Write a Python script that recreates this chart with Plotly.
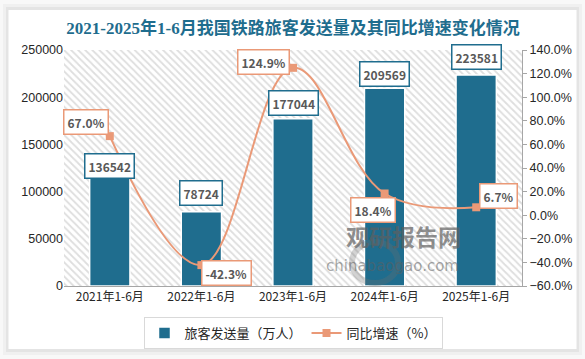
import plotly.graph_objects as go

categories = ["2021年1-6月", "2022年1-6月", "2023年1-6月", "2024年1-6月", "2025年1-6月"]
passengers = [136542, 78724, 177044, 209569, 223581]
growth = [67.0, -42.3, 124.9, 18.4, 6.7]
bar_label_shift = [-9, 19, 16, 14, 18]
pct_label_shift = [(-24, 14), (25, -8), (-30, 6), (-12, -17), (22, 11)]

W, H = 585, 359
ML, MR, MT, MB = 64, 63, 50, 73
PW, PH = W - ML - MR, H - MT - MB

def px_x(p):
    return (p - ML) / PW

def px_y(p):
    return (H - MB - p) / PH

BAR = "#1F6D8E"
LINE = "#EA9977"
TXT = "#595959"
CJK = "Noto Sans CJK SC, Microsoft YaHei, sans-serif"
TICK = "Liberation Sans, Noto Sans CJK SC, sans-serif"

fig = go.Figure()

# hatched plot-area background (base subplot)
fig.add_trace(go.Scatter(
    x=[0, 1, 1, 0, 0], y=[0, 0, 1, 1, 0], xaxis="x", yaxis="y",
    mode="lines", line=dict(width=0), fill="toself",
    fillcolor="white",
    fillpattern=dict(shape="\\", fgcolor="#BDBDBD", bgcolor="white", size=5, solidity=0.35),
    showlegend=False, hoverinfo="skip"))

fig.add_trace(go.Bar(
    x=categories, y=passengers, name="旅客发送量（万人）",
    xaxis="x2", yaxis="y2",
    marker=dict(color=BAR, line=dict(color="white", width=1.5)),
    width=0.44))

fig.add_trace(go.Scatter(
    x=categories, y=growth, name="同比增速（%）",
    xaxis="x2", yaxis="y3", mode="lines+markers",
    line=dict(color=LINE, width=2, shape="spline", smoothing=1.1),
    marker=dict(symbol="square", size=8, color=LINE)))

annotations = []
# watermark (drawn first so labels sit on top)
annotations.append(dict(x=px_x(463), y=px_y(255), xref="paper", yref="paper",
                        text="<b>观研报告网</b>", showarrow=False,
                        font=dict(size=23, color="rgba(95,95,95,0.7)", family=CJK)))
annotations.append(dict(x=px_x(461), y=px_y(277), xref="paper", yref="paper",
                        text="chinabaogao.com", showarrow=False,
                        font=dict(size=15, color="rgba(95,95,95,0.55)", family="DejaVu Sans")))

for c, v, s in zip(categories, passengers, bar_label_shift):
    annotations.append(dict(
        x=c, y=v, xref="x2", yref="y2", text=f"<b>{v}</b>", showarrow=False,
        yshift=s, bgcolor="white", bordercolor=BAR, borderwidth=1.5, borderpad=3,
        font=dict(size=12, color=TXT, family=CJK)))
for c, v, (dx, dy) in zip(categories, growth, pct_label_shift):
    annotations.append(dict(
        x=c, y=v, xref="x2", yref="y3", text=f"<b>{v:.1f}%</b>", showarrow=False,
        xshift=dx, yshift=dy, bgcolor="white", bordercolor=LINE, borderwidth=1.5, borderpad=3,
        font=dict(size=12, color=TXT, family=CJK)))

shapes = [
    dict(type="rect", xref="paper", yref="paper", layer="below",
         x0=px_x(3), x1=px_x(582), y0=px_y(4), y1=px_y(355),
         fillcolor="#F0F0F0", line=dict(width=0)),
    dict(type="rect", xref="paper", yref="paper", layer="below",
         x0=px_x(6), x1=px_x(579), y0=px_y(7), y1=px_y(352),
         fillcolor="#E4E4E4", line=dict(width=0)),
    dict(type="rect", xref="paper", yref="paper", layer="below",
         x0=px_x(8.5), x1=px_x(576.5), y0=px_y(10), y1=px_y(349),
         fillcolor="white", line=dict(width=0)),
    # watermark logo ring
    dict(type="circle", xref="paper", yref="paper", layer="above",
         x0=px_x(352), x1=px_x(398), y0=px_y(242), y1=px_y(283),
         line=dict(color="rgba(110,110,110,0.3)", width=6), fillcolor="rgba(0,0,0,0)"),
]

fig.update_layout(
    width=W, height=H,
    margin=dict(l=ML, r=MR, t=MT, b=MB, autoexpand=False),
    paper_bgcolor="#F8F8F8", plot_bgcolor="rgba(0,0,0,0)",
    title=dict(text="<b>2021-2025年1-6月我国铁路旅客发送量及其同比增速变化情况</b>",
               x=0.5, xref="paper", xanchor="center", y=1 - 22 / H, yref="container",
               yanchor="top",
               font=dict(size=17, color=BAR, family="Liberation Serif, Noto Sans CJK SC, serif")),
    xaxis=dict(range=[0, 1], visible=False, fixedrange=True),
    yaxis=dict(range=[0, 1], visible=False, fixedrange=True),
    xaxis2=dict(overlaying="x", anchor="y2", type="category", range=[-0.5, 4.5],
                showline=True, linecolor="#A6A6A6", linewidth=1, ticks="",
                showgrid=False, tickfont=dict(size=12, color="#262626", family=CJK)),
    yaxis2=dict(overlaying="y", side="left", range=[0, 250000], dtick=50000,
                showgrid=False, zeroline=False, showline=False, tickformat="d",
                tickfont=dict(size=12.5, color="#262626", family=TICK)),
    yaxis3=dict(overlaying="y", side="right", anchor="x2", range=[-60, 140], dtick=20,
                tickformat=".1f", ticksuffix="%", showgrid=False, zeroline=False,
                showline=True, linecolor="#A6A6A6", ticks="outside", ticklen=4,
                tickcolor="#A6A6A6",
                tickfont=dict(size=12.5, color="#262626", family=TICK)),
    legend=dict(orientation="h", x=0.5, xanchor="center", y=px_y(317), yanchor="top",
                bordercolor="#D9D9D9", borderwidth=1, bgcolor="white",
                font=dict(size=13, color="#262626", family=CJK)),
    annotations=annotations, shapes=shapes,
    showlegend=True,
)

fig.write_html("out.html", config={"displayModeBar": False},
               post_script="document.body.style.margin='0';")
